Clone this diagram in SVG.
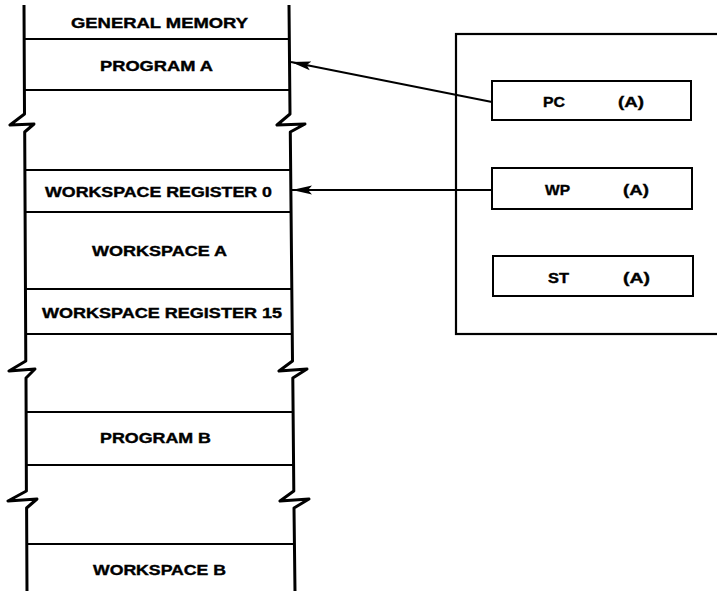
<svg xmlns="http://www.w3.org/2000/svg" width="717" height="591" viewBox="0 0 717 591">
<defs>
<style>
.t{font-family:"Liberation Sans",Arial,sans-serif;font-weight:bold;font-size:15.5px;fill:#000;stroke:#000;stroke-width:0.4}
.col{fill:none;stroke:#000;stroke-width:3;stroke-linejoin:round}
.div{stroke:#000;stroke-width:2}
.box{fill:#fff;stroke:#000;stroke-width:2}
.con{stroke:#000;stroke-width:2;fill:none}
</style>
<marker id="ah" markerWidth="20" markerHeight="10" refX="20" refY="5" orient="auto" markerUnits="userSpaceOnUse">
<path d="M0,0.5 L20,5 L0,9.5 L4,5 Z" fill="#000"/>
</marker>
</defs>
<rect width="717" height="591" fill="#fff"/>
<g id="memory">
<path class="col" d="M24,5 L24.5,114 L10,125 L34,124 L24.7,132 L25.8,361 L9,371 L35,369 L26,378 L26.4,491 L8,501 L37,499 L26.6,508 L27,591"/>
<path class="col" d="M289,5 L290,114 L277,125 L305,124 L290.3,132 L292.5,361 L279,371 L307,369 L292.8,378 L293.8,491 L280,501 L309,499 L294,508 L295,591"/>
<line class="div" x1="24" y1="39" x2="289" y2="39"/>
<line class="div" x1="24" y1="90" x2="290" y2="90"/>
<line class="div" x1="25" y1="170" x2="291" y2="170"/>
<line class="div" x1="25" y1="212" x2="291" y2="212"/>
<line class="div" x1="25" y1="289" x2="292" y2="289"/>
<line class="div" x1="25" y1="334" x2="292" y2="334"/>
<line class="div" x1="26" y1="412" x2="293" y2="412"/>
<line class="div" x1="26" y1="465" x2="294" y2="465"/>
<line class="div" x1="27" y1="544" x2="295" y2="544"/>
</g>
<g id="general-memory"><text class="t" x="71" y="28" textLength="177" lengthAdjust="spacingAndGlyphs">GENERAL MEMORY</text></g>
<g id="program-a"><text class="t" x="100" y="71" textLength="113" lengthAdjust="spacingAndGlyphs">PROGRAM A</text></g>
<g id="ws-reg-0"><text class="t" x="45" y="197" textLength="227" lengthAdjust="spacingAndGlyphs">WORKSPACE REGISTER 0</text></g>
<g id="workspace-a"><text class="t" x="92" y="256" textLength="135" lengthAdjust="spacingAndGlyphs">WORKSPACE A</text></g>
<g id="ws-reg-15"><text class="t" x="42" y="318" textLength="240" lengthAdjust="spacingAndGlyphs">WORKSPACE REGISTER 15</text></g>
<g id="program-b"><text class="t" x="100" y="443" textLength="111" lengthAdjust="spacingAndGlyphs">PROGRAM B</text></g>
<g id="workspace-b"><text class="t" x="93" y="575" textLength="133" lengthAdjust="spacingAndGlyphs">WORKSPACE B</text></g>
<g id="cpu"><rect x="456" y="34" width="270" height="300" fill="none" stroke="#000" stroke-width="2.2"/></g>
<g id="connectors">
<line class="con" x1="492" y1="102" x2="291" y2="62" marker-end="url(#ah)"/>
<line class="con" x1="492" y1="190" x2="292" y2="190" marker-end="url(#ah)"/>
</g>
<g id="pc"><rect class="box" x="492" y="81" width="199" height="39"/>
<text class="t" x="543" y="107" textLength="22" lengthAdjust="spacingAndGlyphs">PC</text>
<text class="t" x="618" y="107" textLength="26" lengthAdjust="spacingAndGlyphs">(A)</text></g>
<g id="wp"><rect class="box" x="492" y="168" width="200" height="41"/>
<text class="t" x="545" y="195" textLength="25" lengthAdjust="spacingAndGlyphs">WP</text>
<text class="t" x="623" y="195" textLength="26" lengthAdjust="spacingAndGlyphs">(A)</text></g>
<g id="st"><rect class="box" x="493" y="256" width="200" height="40"/>
<text class="t" x="548" y="283" textLength="21" lengthAdjust="spacingAndGlyphs">ST</text>
<text class="t" x="623" y="283" textLength="27" lengthAdjust="spacingAndGlyphs">(A)</text></g>
</svg>
